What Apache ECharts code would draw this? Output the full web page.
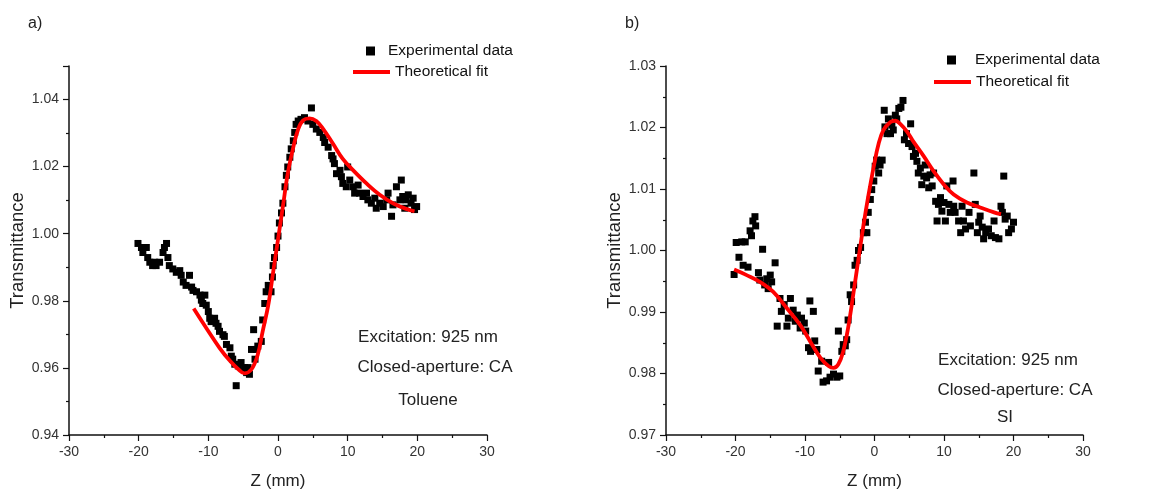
<!DOCTYPE html>
<html>
<head>
<meta charset="utf-8">
<script src="https://cdn.jsdelivr.net/npm/echarts@6/dist/echarts.min.js"></script>
<style>html,body{margin:0;padding:0;background:#fff}#c{width:1161px;height:495px}</style>
</head>
<body>
<div id="c"></div>
<script>
// Panel a) Toluene — experimental data
const zA = [-20.1,-19.6,-19.4,-18.9,-18.7,-18.4,-18.0,-17.7,-17.5,-17.0,-16.5,-16.3,-16.0,-15.8,-15.6,-15.1,-14.6,-14.1,-13.9,-13.6,-13.2,-12.7,-12.4,-12.2,-11.7,-11.2,-11.0,-10.8,-10.5,-10.3,-10.0,-9.8,-9.6,-9.1,-8.9,-8.6,-8.4,-7.9,-7.7,-7.4,-6.9,-6.7,-6.5,-6.2,-6.0,-5.7,-5.3,-4.8,-4.5,-4.3,-4.1,-3.8,-3.5,-3.3,-3.1,-2.9,-2.4,-2.2,-1.9,-1.7,-1.4,-1.0,-0.8,-0.7,-0.5,-0.2,0.0,0.2,0.5,0.7,1.0,1.2,1.4,1.7,1.9,2.2,2.4,2.6,2.9,3.3,3.8,4.3,4.8,5.0,5.5,6.0,6.5,6.7,7.2,7.7,7.9,8.1,8.4,8.9,9.1,9.3,9.8,10.0,10.3,10.8,11.0,11.5,11.7,12.2,12.7,12.9,13.4,13.9,14.1,14.6,15.1,15.6,15.8,16.3,16.5,17.0,17.5,17.7,17.9,18.2,18.4,18.7,19.1,19.4,19.6,19.9];
const tA = [0.9971,0.9959,0.9944,0.9959,0.9929,0.9915,0.9905,0.9915,0.9905,0.9915,0.9944,0.9959,0.9971,0.9929,0.9905,0.9895,0.9885,0.9890,0.9876,0.9856,0.9846,0.9876,0.9841,0.9831,0.9827,0.9817,0.9802,0.9792,0.9817,0.9787,0.9768,0.9748,0.9738,0.9748,0.9733,0.9724,0.9709,0.9699,0.9694,0.9670,0.9660,0.9635,0.9626,0.9611,0.9547,0.9606,0.9616,0.9601,0.9586,0.9601,0.9581,0.9655,0.9714,0.9626,0.9655,0.9665,0.9679,0.9743,0.9792,0.9827,0.9846,0.9827,0.9871,0.9905,0.9929,0.9959,0.9993,1.0032,1.0062,1.0091,1.0140,1.0174,1.0199,1.0228,1.0253,1.0277,1.0302,1.0326,1.0336,1.0341,1.0346,1.0336,1.0375,1.0326,1.0312,1.0302,1.0287,1.0272,1.0258,1.0233,1.0223,1.0209,1.0179,1.0189,1.0170,1.0150,1.0140,1.0199,1.0160,1.0140,1.0121,1.0145,1.0121,1.0111,1.0121,1.0101,1.0091,1.0106,1.0076,1.0091,1.0081,1.0101,1.0121,1.0052,1.0086,1.0140,1.0101,1.0160,1.0111,1.0076,1.0101,1.0116,1.0091,1.0106,1.0072,1.0081];
// Panel a) theoretical fit
const fitZA = [-12.1,-10.3,-8.4,-6.9,-5.7,-4.8,-3.8,-2.9,-2.2,-1.4,-0.7,0.0,0.7,1.4,2.2,2.9,3.6,4.5,5.5,6.5,7.9,9.3,10.8,12.7,14.6,16.5,18.4,19.6];
const fitTA = [0.9777,0.9719,0.9660,0.9621,0.9596,0.9584,0.9596,0.9640,0.9709,0.9787,0.9885,0.9983,1.0081,1.0179,1.0258,1.0312,1.0338,1.0344,1.0336,1.0312,1.0268,1.0223,1.0189,1.0150,1.0116,1.0091,1.0074,1.0067];

// Panel b) SI — experimental data
const zB = [-20.2,-19.9,-19.5,-19.1,-18.9,-18.6,-18.2,-17.9,-17.7,-17.5,-17.2,-17.1,-16.7,-16.5,-16.1,-15.8,-15.5,-15.3,-15.0,-14.8,-14.3,-14.0,-13.6,-13.4,-13.0,-12.6,-12.4,-12.1,-11.7,-11.4,-11.1,-10.7,-10.5,-10.1,-9.9,-9.5,-9.3,-9.2,-8.8,-8.6,-8.3,-8.1,-7.6,-7.4,-6.9,-6.6,-6.4,-5.9,-5.4,-5.2,-5.0,-4.7,-4.5,-4.2,-4.0,-3.8,-3.5,-3.3,-3.0,-2.8,-2.5,-2.3,-2.0,-1.6,-1.3,-1.1,-0.9,-0.6,-0.4,-0.1,0.1,0.3,0.6,0.8,1.1,1.4,1.5,1.8,2.0,2.3,2.5,2.7,3.0,3.2,3.5,3.8,4.1,4.3,4.6,4.9,5.2,5.4,5.6,5.9,6.1,6.3,6.6,6.8,7.1,7.3,7.5,7.8,8.0,8.3,8.5,8.8,9.0,9.2,9.5,9.7,10.0,10.2,10.4,10.7,10.9,11.3,11.4,11.6,12.1,12.4,12.6,12.8,13.1,13.6,13.8,14.3,14.5,14.8,15.0,15.2,15.5,15.7,16.0,16.4,16.8,17.2,17.4,17.9,18.2,18.4,18.6,18.8,19.1,19.3,19.7,20.0];
const tB = [0.9961,1.0013,0.9989,1.0014,0.9976,1.0014,0.9973,1.0032,1.0024,1.0048,1.0055,1.0040,0.9964,0.9952,1.0002,0.9944,0.9954,0.9938,0.9960,0.9949,0.9980,0.9877,0.9922,0.9901,0.9912,0.9877,0.9890,0.9922,0.9903,0.9885,0.9895,0.9874,0.9890,0.9882,0.9869,0.9842,0.9918,0.9836,0.9901,0.9853,0.9839,0.9804,0.9820,0.9786,0.9788,0.9818,0.9794,0.9799,0.9794,0.9869,0.9796,0.9836,0.9847,0.9845,0.9855,0.9887,0.9928,0.9917,0.9944,0.9976,0.9984,1.0000,1.0005,1.0029,1.0046,1.0029,1.0062,1.0083,1.0099,1.0113,1.0137,1.0147,1.0126,1.0139,1.0147,1.0228,1.0201,1.0190,1.0214,1.0190,1.0204,1.0196,1.0220,1.0214,1.0231,1.0233,1.0244,1.0180,1.0190,1.0174,1.0206,1.0169,1.0153,1.0158,1.0145,1.0126,1.0134,1.0107,1.0121,1.0139,1.0118,1.0102,1.0123,1.0105,1.0126,1.0080,1.0048,1.0075,1.0086,1.0064,1.0078,1.0048,1.0105,1.0075,1.0062,1.0113,1.0072,1.0062,1.0048,1.0029,1.0072,1.0048,1.0035,1.0062,1.0040,1.0126,1.0075,1.0029,1.0046,1.0056,1.0038,1.0019,1.0029,1.0035,1.0024,1.0048,1.0021,1.0019,1.0072,1.0062,1.0121,1.0051,1.0056,1.0029,1.0035,1.0046];
// Panel b) theoretical fit
const fitZB = [-20.2,-18.4,-16.5,-14.6,-12.6,-10.7,-9.3,-7.8,-6.6,-5.9,-5.2,-4.5,-3.8,-3.0,-2.3,-1.6,-0.9,-0.1,0.6,1.3,2.3,3.0,3.7,4.7,5.6,7.1,8.5,10.0,11.4,13.3,15.2,17.2,18.2];
const fitTB = [0.9969,0.9960,0.9949,0.9933,0.9906,0.9879,0.9853,0.9826,0.9812,0.9809,0.9815,0.9836,0.9874,0.9933,0.9987,1.0040,1.0088,1.0137,1.0174,1.0196,1.0209,1.0211,1.0206,1.0193,1.0177,1.0153,1.0129,1.0107,1.0091,1.0078,1.0070,1.0062,1.0059];

const xTicks = {min: -30, max: 30, interval: 10};
const yTicksA = {min: 0.94, max: 1.05, interval: 0.02};
const yTicksB = {min: 0.97, max: 1.03, interval: 0.01};

const pairs = (xs, ys) => xs.map((x, i) => [x, ys[i]]);
const FONT = '"Liberation Sans", Arial, sans-serif';

function xAxis(gi) {
  return {
    type: 'value', gridIndex: gi, min: xTicks.min, max: xTicks.max, interval: xTicks.interval,
    name: 'Z (mm)', nameLocation: 'middle', nameGap: 38,
    nameTextStyle: {fontFamily: FONT, fontSize: 17, color: '#222'},
    axisLine: {show: true, onZero: false, lineStyle: {color: '#111', width: 1.5}},
    axisTick: {show: true, inside: false, length: 6, lineStyle: {color: '#111', width: 1.2}},
    minorTick: {show: true, splitNumber: 2, length: 3, lineStyle: {color: '#111', width: 1.2}},
    splitLine: {show: false}, minorSplitLine: {show: false},
    axisLabel: {fontFamily: FONT, fontSize: 14, color: '#333', margin: 10}
  };
}
function yAxis(gi, t, dec) {
  return {
    type: 'value', gridIndex: gi, min: t.min, max: t.max, interval: t.interval,
    name: 'Transmittance', nameLocation: 'middle', nameGap: 42, nameRotate: 90,
    nameTextStyle: {fontFamily: FONT, fontSize: 18.5, color: '#222'},
    axisLine: {show: true, onZero: false, lineStyle: {color: '#111', width: 1.5}},
    axisTick: {show: true, inside: false, length: 6, lineStyle: {color: '#111', width: 1.2}},
    minorTick: {show: true, splitNumber: 2, length: 3, lineStyle: {color: '#111', width: 1.2}},
    splitLine: {show: false}, minorSplitLine: {show: false},
    axisLabel: {fontFamily: FONT, fontSize: 14, color: '#333', margin: 10,
      showMaxLabel: gi === 1,
      formatter: v => v.toFixed(dec)}
  };
}
function legend(name, left, top, w, h, padLeft) {
  return {
    data: [name], left: left, top: top, padding: 0, icon: 'rect',
    itemWidth: w, itemHeight: h, selectedMode: false,
    textStyle: {fontFamily: FONT, fontSize: 15.5, color: '#111', padding: [0, 0, 0, padLeft]}
  };
}
function txt(s, cx, cy) {
  return {type: 'text', x: cx, y: cy, style: {text: s, fontFamily: FONT, fontSize: 17, fill: '#222', align: 'center', verticalAlign: 'middle'}};
}

const chart = echarts.init(document.getElementById('c'), null, {renderer: 'canvas'});
chart.setOption({
  animation: false,
  backgroundColor: '#fff',
  grid: [
    {left: 69, right: 674, top: 66, bottom: 56},
    {left: 666, right: 78, top: 66, bottom: 56}
  ],
  xAxis: [xAxis(0), xAxis(1)],
  yAxis: [yAxis(0, yTicksA, 2), yAxis(1, yTicksB, 2)],
  legend: [
    legend('Experimental data', 366, 43, 9, 9, 8),
    legend('Theoretical fit', 353, 64, 37, 4, 0),
    legend('Experimental data', 947, 52, 9, 9, 14),
    legend('Theoretical fit', 934, 74, 37, 4, 0)
  ],
  graphic: [
    {type: 'text', left: 28, top: 16, style: {text: 'a)', fontFamily: FONT, fontSize: 16, fill: '#222'}},
    {type: 'text', left: 625, top: 16, style: {text: 'b)', fontFamily: FONT, fontSize: 16, fill: '#222'}},
    txt('Excitation: 925 nm', 428, 337),
    txt('Closed-aperture: CA', 435, 367),
    txt('Toluene', 428, 400),
    txt('Excitation: 925 nm', 1008, 360),
    txt('Closed-aperture: CA', 1015, 390),
    txt('SI', 1005, 417)
  ],
  series: [
    {name: 'Experimental data', type: 'scatter', xAxisIndex: 0, yAxisIndex: 0, symbol: 'rect', symbolSize: 7,
     itemStyle: {color: '#000', opacity: 1}, data: pairs(zA, tA), z: 2},
    {name: 'Theoretical fit', type: 'line', xAxisIndex: 0, yAxisIndex: 0, smooth: 0.4, showSymbol: false, symbol: 'none',
     lineStyle: {color: '#f00', width: 3.8}, itemStyle: {color: '#f00'}, data: pairs(fitZA, fitTA), z: 3},
    {name: 'Experimental data', type: 'scatter', xAxisIndex: 1, yAxisIndex: 1, symbol: 'rect', symbolSize: 7,
     itemStyle: {color: '#000', opacity: 1}, data: pairs(zB, tB), z: 2},
    {name: 'Theoretical fit', type: 'line', xAxisIndex: 1, yAxisIndex: 1, smooth: 0.4, showSymbol: false, symbol: 'none',
     lineStyle: {color: '#f00', width: 3.8}, itemStyle: {color: '#f00'}, data: pairs(fitZB, fitTB), z: 3}
  ]
});
</script>
</body>
</html>
